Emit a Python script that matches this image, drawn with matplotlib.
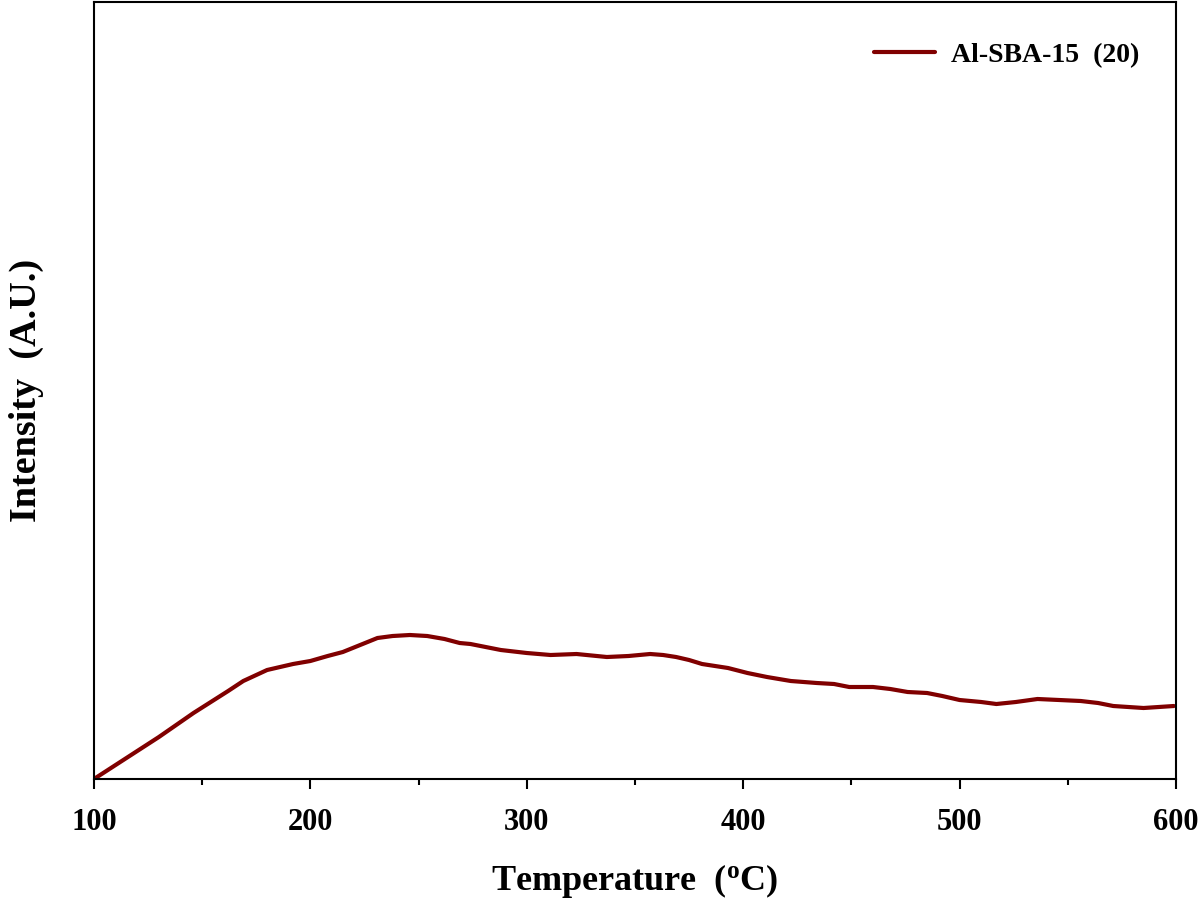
import matplotlib
matplotlib.use("Agg")
import matplotlib.pyplot as plt
from matplotlib.ticker import MultipleLocator, NullLocator

temperature = [100, 115, 130, 146, 154, 162, 169, 175, 180, 186, 192, 200, 208, 215, 223, 231, 238, 246, 254,
               262, 269, 274, 281, 288, 300, 311, 323, 337, 347, 357, 363, 369, 375, 381, 393, 402, 411, 422, 434, 442,
               449, 460, 468, 476, 485, 492, 500, 510, 517, 526, 536, 546, 556, 564, 571, 585, 592, 599]
intensity = [0, 21, 42, 66, 77, 88, 98, 104, 109, 112, 115, 118, 123, 127, 134, 141, 143, 144, 143,
             140, 136, 135, 132, 129, 126, 124, 125, 122, 123, 125, 124, 122, 119, 115, 111, 106, 102, 98, 96, 95,
             92, 92, 90, 87, 86, 83, 79, 77, 75, 77, 80, 79, 78, 76, 73, 71, 72, 73]
series_label = "Al-SBA-15  (20)"
x_ticks = [100, 200, 300, 400, 500, 600]

plt.rcParams['font.family'] = ['Liberation Serif', 'DejaVu Serif']
plt.rcParams['font.weight'] = 'bold'
plt.rcParams['mathtext.fontset'] = 'custom'
plt.rcParams['mathtext.rm'] = 'Liberation Serif:bold'
plt.rcParams['mathtext.it'] = 'Liberation Serif:bold'
plt.rcParams['mathtext.bf'] = 'Liberation Serif:bold'

fig = plt.figure(figsize=(12, 9.14), dpi=100)
ax = fig.add_axes([0.0783, 0.1477, 0.9017, 0.8501])

ax.plot(temperature, intensity, color='#800000', lw=3, label=series_label,
        solid_capstyle='round', solid_joinstyle='round')

ax.set_xlim(100, 600)
ax.set_ylim(0, 777)
ax.set_xticks(x_ticks)
ax.xaxis.set_minor_locator(MultipleLocator(50))
ax.yaxis.set_major_locator(NullLocator())
ax.tick_params(axis='x', which='major', direction='out', length=7, width=1.5,
               labelsize=22, pad=14)
ax.tick_params(axis='x', which='minor', direction='out', length=4.5, width=1.5)
for lbl in ax.get_xticklabels():
    lbl.set_fontweight('bold')
for s in ax.spines.values():
    s.set_linewidth(1.5)

ax.set_xlabel(r'Temperature  ($\mathregular{^o}$C)', fontsize=26, fontweight='bold', labelpad=18)
ax.set_ylabel('Intensity  (A.U.)', fontsize=27.5, fontweight='bold', labelpad=36)

leg = ax.legend(loc='upper right', frameon=False, prop={'size': 20, 'weight': 'bold'},
                handlelength=2.2, handletextpad=0.55, bbox_to_anchor=(0.989, 0.98))

fig.savefig('out.png', dpi=100)
